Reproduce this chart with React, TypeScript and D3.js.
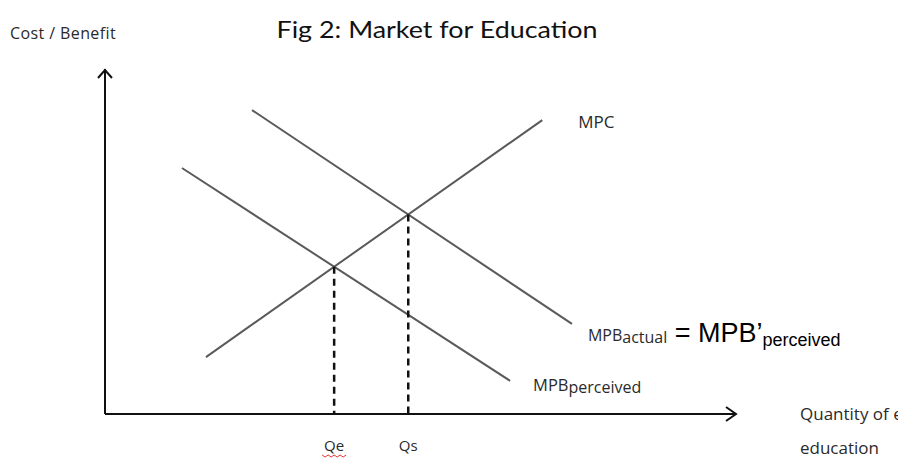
import React from 'react';
import * as d3 from 'd3';

const W = 898;
const H = 459;

const titleText = 'Fig 2: Market for Education';
const yAxisLabel = 'Cost / Benefit';
const xAxisLabelLines = ['Quantity of e', 'education'];
const qLabels = ['Qe', 'Qs'];

// curve end points in chart units (quantity, cost/benefit), domain 0..100
const mpcQ = [16, 69.3];
const mpcP = [16.5, 85.2];
const mpbPerceivedQ = [12.2, 64.2];
const mpbPerceivedP = [71.3, 9.6];
const mpbActualQ = [23.3, 74.0];
const mpbActualP = [88.1, 26.1];

type Pt = { q: number; p: number };
const toPts = (qs: number[], ps: number[]): Pt[] => qs.map((q, i) => ({ q, p: ps[i] }));

function intersect(a: Pt[], b: Pt[]): Pt {
  const m1 = (a[1].p - a[0].p) / (a[1].q - a[0].q);
  const m2 = (b[1].p - b[0].p) / (b[1].q - b[0].q);
  const c1 = a[0].p - m1 * a[0].q;
  const c2 = b[0].p - m2 * b[0].q;
  const q = (c2 - c1) / (m1 - m2);
  return { q, p: m1 * q + c1 };
}

export default function App() {
  const x = d3.scaleLinear().domain([0, 100]).range([105, 736]);
  const y = d3.scaleLinear().domain([0, 100]).range([414, 69]);
  const line = d3.line<Pt>().x((d) => x(d.q)).y((d) => y(d.p));

  const mpc = toPts(mpcQ, mpcP);
  const mpbP = toPts(mpbPerceivedQ, mpbPerceivedP);
  const mpbA = toPts(mpbActualQ, mpbActualP);
  const eq = [intersect(mpc, mpbP), intersect(mpc, mpbA)];

  const x0 = x(0), y0 = y(0);
  const xEnd = x(100), yTop = y(100);
  const labelFont = "'Open Sans', 'DejaVu Sans', sans-serif";
  const arial = "'Liberation Sans', Arial, sans-serif";
  const textCol = '#2a2a2a';
  const curveCol = '#5a5a5a';

  const mpcEnd = mpc[1];
  const mpbAEnd = mpbA[1];
  const mpbPEnd = mpbP[1];

  const qeX = x(eq[0].q);
  const squiggle = d3.range(0, 9).map((i) => [qeX - 12 + i * 3, y0 + 41 + (i % 2 === 0 ? 0 : 2)] as [number, number]);

  return (
    <svg width={W} height={H} style={{ position: 'absolute', left: 0, top: 0, background: '#fff' }}>
      <rect x={0} y={0} width={W} height={H} fill="#fff" />
      <text x={437} y={38} textAnchor="middle" fontFamily="Lato, 'Open Sans', sans-serif" fontSize={24} fill="#111"
        textLength={321} lengthAdjust="spacingAndGlyphs">
        {titleText}
      </text>
      <text x={10} y={39} fontFamily={labelFont} fontSize={16} fill={textCol} letterSpacing={0.4}>
        {yAxisLabel}
      </text>

      {/* axes */}
      <path d={`M${x0},${y0}V${yTop}`} stroke="#111" strokeWidth={2} fill="none" />
      <path d={`M${x0 - 7},${yTop + 9}L${x0},${yTop + 1}L${x0 + 7},${yTop + 9}`} stroke="#111" strokeWidth={2} fill="none" />
      <path d={`M${x0},${y0}H${xEnd}`} stroke="#111" strokeWidth={2} fill="none" />
      <path d={`M${xEnd - 10},${y0 - 7}L${xEnd},${y0}L${xEnd - 10},${y0 + 7}`} stroke="#111" strokeWidth={2} fill="none" />

      {/* curves */}
      {[mpc, mpbP, mpbA].map((c, i) => (
        <path key={i} d={line(c) || ''} stroke={curveCol} strokeWidth={2} fill="none" />
      ))}

      {/* dashed equilibrium lines */}
      {eq.map((e, i) => (
        <path key={i} d={`M${x(e.q)},${y(e.p)}V${y0}`} stroke="#111" strokeWidth={2.5} strokeDasharray="7,5" fill="none" />
      ))}

      {/* Q labels */}
      {eq.map((e, i) => (
        <text key={i} x={x(e.q)} y={y0 + 37} textAnchor="middle" fontFamily={labelFont} fontSize={15} fill={textCol}>
          {qLabels[i]}
        </text>
      ))}
      <path d={d3.line()(squiggle) || ''} stroke="#d33" strokeWidth={1} fill="none" />

      {/* curve labels */}
      <text x={x(mpcEnd.q) + 36} y={y(mpcEnd.p) + 8} fontFamily={labelFont} fontSize={17} fill={textCol}>MPC</text>
      <text x={x(mpbAEnd.q) + 16} y={y(mpbAEnd.p) + 17} fontFamily={labelFont} fontSize={16} fill={textCol}>
        MPB<tspan fontSize={16} dy={2}>actual</tspan>
        <tspan fontFamily={arial} fontSize={27} fill="#000" dy={-1}> = MPB’</tspan>
        <tspan fontFamily={arial} fontSize={18} fill="#000" dy={4}>perceived</tspan>
      </text>
      <text x={x(mpbPEnd.q) + 23} y={y(mpbPEnd.p) + 10} fontFamily={labelFont} fontSize={16.5} fill={textCol}>
        MPB<tspan fontSize={16} dy={2}>perceived</tspan>
      </text>

      {/* x axis label */}
      {xAxisLabelLines.map((t, i) => (
        <text key={i} x={800} y={y0 + 6 + i * 34} fontFamily={labelFont} fontSize={17} fill={textCol}>
          {t}
        </text>
      ))}
    </svg>
  );
}
